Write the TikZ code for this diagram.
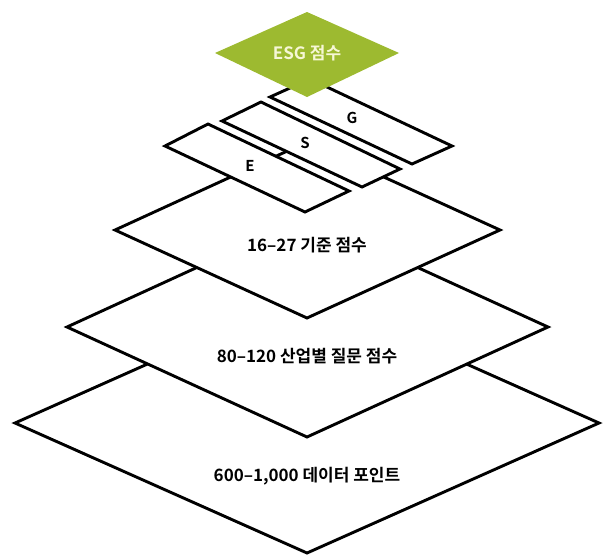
\documentclass[tikz,border=0pt]{standalone}
\usepackage{fontspec}
\setmainfont{Noto Sans CJK KR}[BoldFont={Noto Sans CJK KR Bold}]
\usetikzlibrary{positioning}
\definecolor{esggreen}{RGB}{157,186,48}
\definecolor{esgtext}{RGB}{246,247,214}

\begin{document}
\begin{tikzpicture}[
x=1pt, y=-1pt,
layer/.style={draw=black, fill=white, line width=2.9pt, line join=miter},
top_layer/.style={fill=esggreen},
caption/.style={font=\bfseries\fontsize{17}{17}\selectfont, text=black},
letter/.style={font=\bfseries\fontsize{15}{15}\selectfont, text=black}
]
\useasboundingbox (0,0) rectangle (610,554);

% data points
\coordinate (data_w) at (15,423);  \coordinate (data_n) at (307,293);
\coordinate (data_e) at (599,423); \coordinate (data_s) at (307,553);
\draw[layer] (data_w) -- (data_n) -- (data_e) -- (data_s) -- cycle;

% industry questions
\coordinate (quest_w) at (67,327);  \coordinate (quest_n) at (307,217);
\coordinate (quest_e) at (548,327); \coordinate (quest_s) at (307,437);
\draw[layer] (quest_w) -- (quest_n) -- (quest_e) -- (quest_s) -- cycle;

% criteria
\coordinate (crit_w) at (115,230);  \coordinate (crit_n) at (307,142);
\coordinate (crit_e) at (500,230);  \coordinate (crit_s) at (307,318);
\draw[layer] (crit_w) -- (crit_n) -- (crit_e) -- (crit_s) -- cycle;

% pillars
\draw[layer] (270,97) coordinate (g_w) -- (310,79) coordinate (g_n)
  -- (452,146) coordinate (g_e) -- (412,164) coordinate (g_s) -- cycle;
\draw[layer] (222,121) coordinate (s_w) -- (261,102) coordinate (s_n)
  -- (400,169) coordinate (s_e) -- (362,187) coordinate (s_s) -- cycle;
\draw[layer] (165,146) coordinate (e_w) -- (208,124) coordinate (e_n)
  -- (349,191) coordinate (e_e) -- (305,212) coordinate (e_s) -- cycle;

% score
\coordinate (esg_w) at (215,53);  \coordinate (esg_n) at (307,12);
\coordinate (esg_e) at (399,53);  \coordinate (esg_s) at (307,97);
\fill[top_layer] (esg_w) -- (esg_n) -- (esg_e) -- (esg_s) -- cycle;

\node[caption, text=esgtext](esg_label) at (307,53){ESG 점수};
\node[letter](g_label) at (352,118){G};
\node[letter](s_label) at (305,143){S};
\node[letter](e_label) at (250,166){E};
\node[caption](crit_label) at (307,245){16–27 기준 점수};
\node[caption](quest_label) at (307,356){80–120 산업별 질문 점수};
\node[caption](data_label) at (307,476){600–1,000 데이터 포인트};
\end{tikzpicture}
\end{document}
